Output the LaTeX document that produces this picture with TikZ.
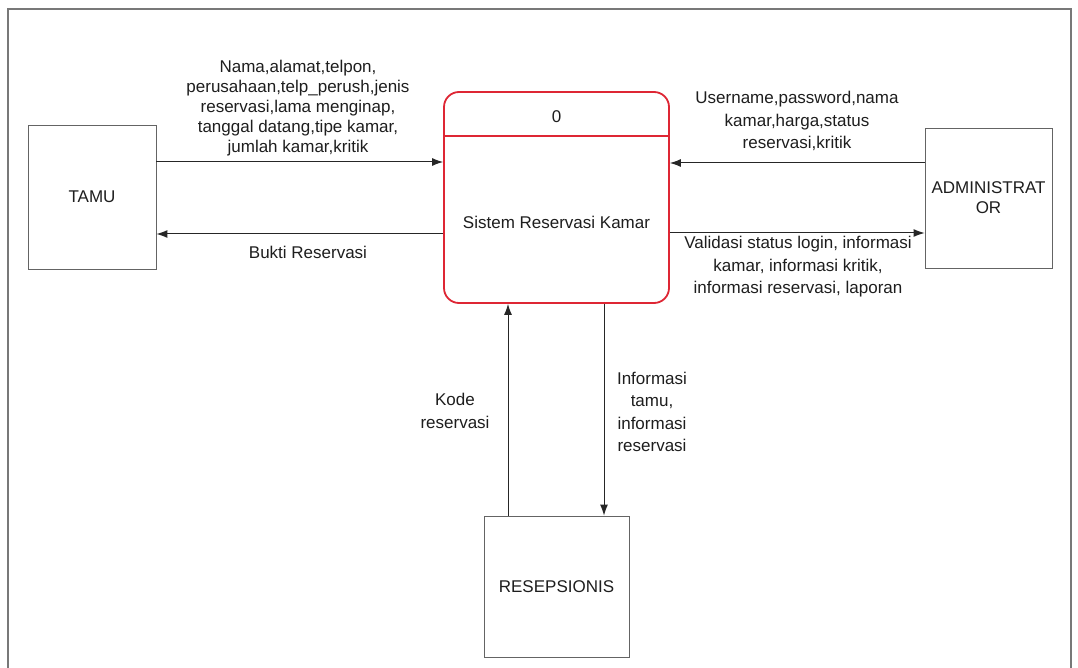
\documentclass[tikz,border=0pt]{standalone}
\usepackage{fontspec}
\setmainfont{Liberation Sans}
\usetikzlibrary{arrows.meta}
\definecolor{procred}{RGB}{222,38,52}
\definecolor{framegray}{RGB}{120,120,120}
\definecolor{boxgray}{RGB}{100,100,100}
\definecolor{txt}{RGB}{30,30,30}
\tikzset{
  entity/.style={draw=boxgray, line width=0.9pt, minimum width=#1, inner sep=0pt},
  lbl/.style={align=center, text=txt, font=\fontsize{17}{20}\selectfont, inner sep=0pt},
  lblw/.style={align=center, text=txt, font=\fontsize{17}{22.5}\selectfont, inner sep=0pt},
  flow/.style={draw=black!85, line width=1pt, -{Latex[length=11pt,width=8pt]}}
}
\begin{document}
\begin{tikzpicture}[x=1pt,y=-1pt]
\useasboundingbox (0,0) rectangle (1078,668);
\fill[white] (0,0) rectangle (1078,668);
% outer frame
\draw[framegray, line width=2pt] (8,690) -- (8,9) -- (1071,9) -- (1071,690);
% entities
\node[entity=128pt, minimum height=144pt] (tamu) at (92,197) {};
\node[lbl] at (tamu.center) {TAMU};
\node[entity=127pt, minimum height=140pt] (admin) at (988.5,198) {};
\node[lbl] at (admin.center) {ADMINISTRAT\\OR};
\node[entity=145pt, minimum height=141pt] (res) at (556.5,586.5) {};
\node[lbl] at (res.center) {RESEPSIONIS};
% process
\node[draw=procred, line width=1.8pt, rounded corners=15pt, minimum width=225pt, minimum height=211pt, inner sep=0pt] (proc) at (556.5,197.5) {};
\draw[procred, line width=1.5pt] ([yshift=-45pt]proc.north west) -- ([yshift=-45pt]proc.north east);
\node[lbl] (pnum) at ([yshift=-26pt]proc.north) {0};
\node[lbl] (pname) at ([yshift=-24.5pt]proc.center) {Sistem Reservasi Kamar};
% flows
\draw[flow] ([yshift=35pt]tamu.east) -- ([yshift=35pt]tamu.east -| proc.west);
\draw[flow] ([yshift=-37pt]tamu.east -| proc.west) -- ([yshift=-37pt]tamu.east);
\draw[flow] ([yshift=35pt]admin.west) -- ([yshift=35pt]admin.west -| proc.east);
\draw[flow] ([yshift=-35pt]admin.west -| proc.east) -- ([yshift=-35pt]admin.west);
\draw[flow] ([xshift=-48.5pt]res.north) -- ([xshift=-48.5pt]res.north |- proc.south);
\draw[flow] ([xshift=47.5pt]res.north |- proc.south) -- ([xshift=47.5pt]res.north);
% labels
\node[lbl] at (298,108.5) {Nama,alamat,telpon,\\perusahaan,telp\_perush,jenis\\reservasi,lama menginap,\\tanggal datang,tipe kamar,\\jumlah kamar,kritik};
\node[lbl] at (308,252) {Bukti Reservasi};
\node[lblw] at (797,121) {Username,password,nama\\kamar,harga,status\\reservasi,kritik};
\node[lblw] at (798,267) {Validasi status login, informasi\\kamar, informasi kritik,\\informasi reservasi, laporan};
\node[lblw] at (455,411) {Kode\\reservasi};
\node[lblw] at (652,412) {Informasi\\tamu,\\informasi\\reservasi};
\end{tikzpicture}
\end{document}
